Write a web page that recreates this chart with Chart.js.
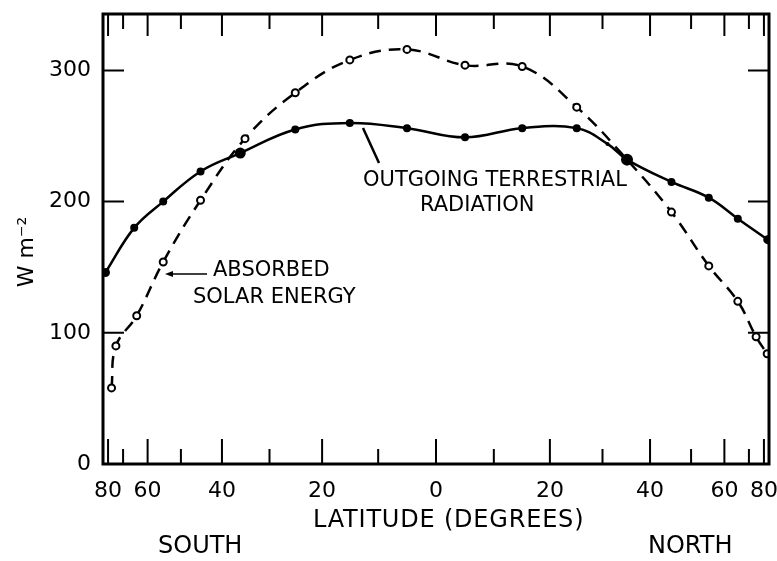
<!DOCTYPE html>
<html>
<head>
<meta charset="utf-8">
<title>Radiation balance by latitude</title>
<script src="https://cdn.jsdelivr.net/npm/chart.js@4"></script>
<style>
  body { margin: 0; background: #fff; }
  #wrap { width: 777px; height: 561px; }
</style>
</head>
<body>
<div id="wrap"><canvas id="radChart" width="777" height="561"></canvas></div>
<script>
// latitude in degrees (south negative), values in W m-2
const outgoingLat = [-83, -65, -55, -45, -36, -25, -15, -5, 5, 15, 25, 31, 35, 45, 55, 65, 85];
const outgoingVal = [146, 180, 200, 223, 237, 255, 260, 256, 249, 256, 256, 244, 232, 215, 203, 187, 171];
const outgoingSize = [4.5, 4, 4, 4, 5.5, 4, 4, 4, 4, 4, 4, 2, 6, 4, 4, 4, 4.5];

const absorbedLat = [-77, -74, -64, -55, -45, -35, -25, -15, -5, 5, 15, 25, 35, 45, 55, 65, 74, 84];
const absorbedVal = [58, 90, 113, 154, 201, 248, 283, 308, 316, 304, 303, 272, 232, 192, 151, 124, 97, 84];

// x axis is drawn in sin(latitude) so equal widths mean equal areas
const latTicks  = [-80, -70, -60, -50, -40, -30, -20, -10, 0, 10, 20, 30, 40, 50, 60, 70, 80];
const latLabels = ['80', '', '60', '', '40', '', '20', '', '0', '', '20', '', '40', '', '60', '', '80'];
const yTicks = [0, 100, 200, 300];

const rad = d => Math.sin(d * Math.PI / 180);
const toPoints = (lats, vals) => lats.map((l, i) => ({ x: rad(l), y: vals[i] }));

const FONT = "'DejaVu Sans', 'Liberation Sans', sans-serif";

// frame, inward tick marks and the hand-lettered labels
const frameAndLabels = {
  id: 'frameAndLabels',
  afterDatasetsDraw(chart) {
    const { ctx, chartArea: a, scales: { x, y } } = chart;
    ctx.save();
    ctx.strokeStyle = '#000';
    ctx.lineCap = 'butt';

    ctx.lineWidth = 2;
    latTicks.forEach(l => {
      const px = x.getPixelForValue(rad(l));
      const major = l % 20 === 0;
      ctx.beginPath();
      ctx.moveTo(px, a.bottom);
      ctx.lineTo(px, a.bottom - (major ? 25 : 15));
      ctx.moveTo(px, a.top);
      ctx.lineTo(px, a.top + (major ? 22 : 15));
      ctx.stroke();
    });
    yTicks.slice(1).forEach(v => {
      const py = y.getPixelForValue(v);
      ctx.beginPath();
      ctx.moveTo(a.left, py);
      ctx.lineTo(a.left + 21, py);
      ctx.moveTo(a.right, py);
      ctx.lineTo(a.right - 21, py);
      ctx.stroke();
    });

    ctx.lineWidth = 3;
    ctx.strokeRect(a.left, a.top, a.right - a.left, a.bottom - a.top);

    ctx.fillStyle = '#000';
    ctx.textBaseline = 'middle';
    ctx.font = '21px ' + FONT;

    // curve labels
    ctx.textAlign = 'left';
    ctx.fillText('OUTGOING TERRESTRIAL', 363, 181);
    ctx.fillText('RADIATION', 420, 206);
    ctx.fillText('ABSORBED', 213, 271);
    ctx.fillText('SOLAR ENERGY', 193, 298);

    ctx.lineWidth = 2.5;
    ctx.beginPath();
    ctx.moveTo(363, 128);
    ctx.lineTo(379, 163);
    ctx.stroke();

    ctx.lineWidth = 1.5;
    ctx.beginPath();
    ctx.moveTo(207, 274);
    ctx.lineTo(168, 274);
    ctx.stroke();
    ctx.beginPath();
    ctx.moveTo(165, 274);
    ctx.lineTo(173, 271);
    ctx.lineTo(173, 277);
    ctx.closePath();
    ctx.fill();

    // axis titles
    ctx.font = '24px ' + FONT;
    ctx.letterSpacing = '0.8px';
    ctx.fillText('LATITUDE (DEGREES)', 313, 521);
    ctx.letterSpacing = '0px';
    ctx.fillText('SOUTH', 158, 547);
    ctx.fillText('NORTH', 648, 547);

    ctx.save();
    ctx.textAlign = 'center';
    ctx.translate(27, 252);
    ctx.rotate(-Math.PI / 2);
    ctx.font = '22px ' + FONT;
    ctx.fillText('W m⁻²', 0, 0);
    ctx.restore();

    ctx.restore();
  }
};

new Chart(document.getElementById('radChart'), {
  type: 'line',
  data: {
    datasets: [
      {
        label: 'Outgoing terrestrial radiation',
        data: toPoints(outgoingLat, outgoingVal),
        borderColor: '#000',
        borderWidth: 2.5,
        tension: 0.4,
        pointRadius: outgoingSize,
        pointBackgroundColor: '#000',
        pointBorderColor: '#000',
        pointBorderWidth: 0
      },
      {
        label: 'Absorbed solar energy',
        data: toPoints(absorbedLat, absorbedVal),
        borderColor: '#000',
        borderWidth: 2.5,
        borderDash: [12, 8],
        tension: 0.4,
        pointRadius: 3.5,
        pointBackgroundColor: '#fff',
        pointBorderColor: '#000',
        pointBorderWidth: 2
      }
    ]
  },
  options: {
    responsive: false,
    animation: false,
    devicePixelRatio: 1,
    layout: { padding: { top: 14, right: 8, left: 0, bottom: 0 } },
    plugins: {
      legend: { display: false },
      tooltip: { enabled: false }
    },
    scales: {
      x: {
        type: 'linear',
        min: -1,
        max: 1,
        afterBuildTicks: s => { s.ticks = latTicks.map(l => ({ value: rad(l) })); },
        afterFit: s => {
          s.height = 97;
          s.paddingLeft = 0;
          s.paddingRight = 0;
        },
        grid: { display: false, drawTicks: false },
        border: { display: false },
        ticks: {
          autoSkip: false,
          maxRotation: 0,
          padding: 14,
          color: '#000',
          font: { family: FONT, size: 22 },
          callback: (v, i) => latLabels[i]
        }
      },
      y: {
        min: 0,
        max: 343,
        afterBuildTicks: s => { s.ticks = yTicks.map(v => ({ value: v })); },
        afterFit: s => {
          s.width = 103;
          s.paddingTop = 0;
          s.paddingBottom = 0;
        },
        grid: { display: false, drawTicks: false },
        border: { display: false },
        ticks: {
          padding: 12,
          color: '#000',
          font: { family: FONT, size: 22 }
        }
      }
    }
  },
  plugins: [frameAndLabels]
});
</script>
</body>
</html>
